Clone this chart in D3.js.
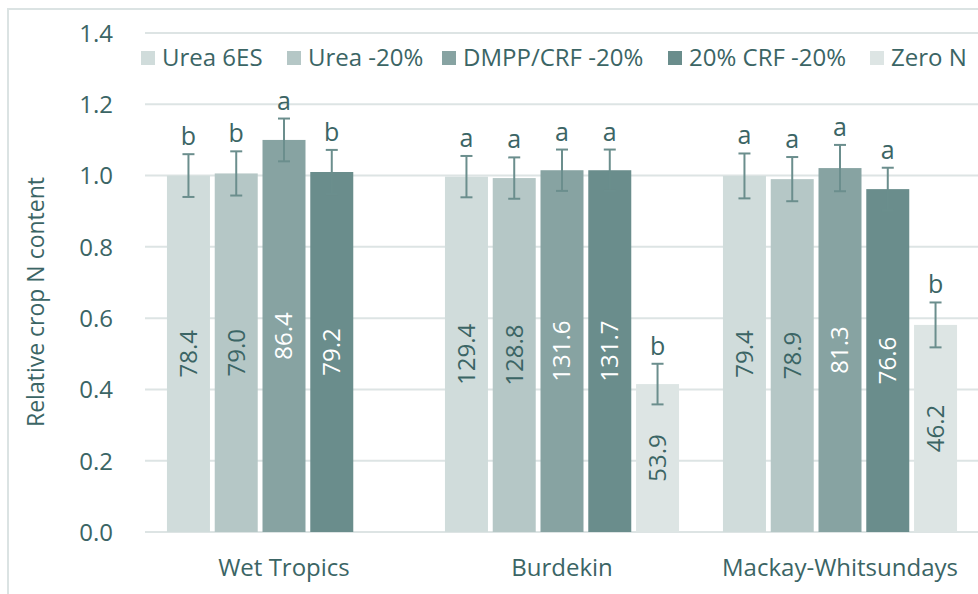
<!DOCTYPE html>
<meta charset="utf-8">
<style>
  body { margin: 0; background: #fff; }
  text { font-family: "Open Sans", Lato, sans-serif; fill: #3b6565; }
</style>
<svg width="978" height="594"></svg>
<script src="https://cdnjs.cloudflare.com/ajax/libs/d3/7.8.5/d3.min.js"></script>
<script>
  var categories = ["Wet Tropics", "Burdekin", "Mackay-Whitsundays"];
  var series = ["Urea 6ES", "Urea -20%", "DMPP/CRF -20%", "20% CRF -20%", "Zero N"];
  // relative crop N content, one row per series (null = not measured)
  var relN = [
    [1.000, 0.997, 0.999],
    [1.006, 0.993, 0.990],
    [1.100, 1.015, 1.021],
    [1.010, 1.015, 0.962],
    [null, 0.415, 0.581]
  ];
  var stdErr = [
    [0.060, 0.058, 0.063],
    [0.062, 0.058, 0.062],
    [0.060, 0.058, 0.065],
    [0.062, 0.058, 0.060],
    [null, 0.057, 0.063]
  ];
  // crop N uptake shown inside the bars
  var uptake = [
    ["78.4", "129.4", "79.4"],
    ["79.0", "128.8", "78.9"],
    ["86.4", "131.6", "81.3"],
    ["79.2", "131.7", "76.6"],
    [null, "53.9", "46.2"]
  ];
  var letters = [
    ["b", "a", "a"],
    ["b", "a", "a"],
    ["a", "a", "a"],
    ["b", "a", "a"],
    [null, "b", "b"]
  ];
  var yTicks = [0, 0.2, 0.4, 0.6, 0.8, 1.0, 1.2, 1.4];

  var colors = ["#d0dcdb", "#b5c7c6", "#87a3a2", "#6a8d8c", "#dde5e4"];
  var labelColors = ["#3b6565", "#3b6565", "#ffffff", "#ffffff", "#3b6565"];

  var svg = d3.select("svg");

  // outer frame
  svg.append("rect")
    .attr("x", 8).attr("y", 9)
    .attr("width", 1000).attr("height", 600)
    .attr("fill", "none")
    .attr("stroke", "#dbe3e3")
    .attr("stroke-width", 2);

  var x0 = d3.scaleBand()
    .domain(categories)
    .range([145, 979])
    .paddingInner(0.158)
    .paddingOuter(0.079);

  var x1 = d3.scaleBand()
    .domain(series)
    .range([0, x0.bandwidth()])
    .paddingInner(0.1);

  var y = d3.scaleLinear()
    .domain([0, 1.4])
    .range([532, 33]);

  // gridlines
  svg.append("g").selectAll("line")
    .data(yTicks)
    .enter().append("line")
    .attr("x1", 145).attr("x2", 979)
    .attr("y1", function(d) { return y(d); })
    .attr("y2", function(d) { return y(d); })
    .attr("stroke", "#dde4e4")
    .attr("stroke-width", 2);

  // y axis labels
  var yAxis = svg.append("g")
    .attr("transform", "translate(113,0)")
    .call(d3.axisLeft(y).tickValues(yTicks).tickFormat(d3.format(".1f")).tickSize(0).tickPadding(0));
  yAxis.select(".domain").remove();
  yAxis.attr("font-family", null).attr("font-size", null);
  yAxis.selectAll("text")
    .style("font-size", "24px")
    .attr("fill", "#3b6565")
    .attr("dy", "0.35em");

  svg.append("text")
    .attr("transform", "translate(44,302) rotate(-90)")
    .attr("text-anchor", "middle")
    .style("font-size", "23px")
    .text("Relative crop N content");

  // x axis labels
  svg.append("g").selectAll("text")
    .data(categories)
    .enter().append("text")
    .attr("x", function(d) { return x0(d) + x0.bandwidth() / 2; })
    .attr("y", 576)
    .attr("text-anchor", "middle")
    .style("font-size", "24px")
    .text(function(d) { return d; });

  // build flat records
  var recs = [];
  series.forEach(function(s, i) {
    categories.forEach(function(c, j) {
      if (relN[i][j] == null) return;
      recs.push({ s: s, si: i, c: c, v: relN[i][j], e: stdErr[i][j], lab: uptake[i][j], let: letters[i][j] });
    });
  });

  var g = svg.append("g");
  var bar = g.selectAll(".bar")
    .data(recs)
    .enter().append("g")
    .attr("class", "bar")
    .attr("transform", function(d) { return "translate(" + (x0(d.c) + x1(d.s)) + ",0)"; });

  var bw = x1.bandwidth();

  bar.append("rect")
    .attr("x", 0)
    .attr("width", bw)
    .attr("y", function(d) { return y(d.v); })
    .attr("height", function(d) { return y(0) - y(d.v); })
    .attr("fill", function(d) { return colors[d.si]; });

  // value labels inside bars
  bar.append("text")
    .attr("transform", function(d) {
      return "translate(" + (bw / 2) + "," + ((y(d.v) + y(0)) / 2) + ") rotate(-90)";
    })
    .attr("text-anchor", "middle")
    .attr("dy", "0.35em")
    .style("font-size", "24px")
    .style("fill", function(d) { return labelColors[d.si]; })
    .text(function(d) { return d.lab; });

  // error bars
  var ec = "#6b8e8d";
  bar.append("line")
    .attr("x1", bw / 2).attr("x2", bw / 2)
    .attr("y1", function(d) { return y(d.v + d.e); })
    .attr("y2", function(d) { return y(d.v - d.e); })
    .attr("stroke", ec).attr("stroke-width", 2);
  bar.append("line")
    .attr("x1", bw / 2 - 6).attr("x2", bw / 2 + 6)
    .attr("y1", function(d) { return y(d.v + d.e); })
    .attr("y2", function(d) { return y(d.v + d.e); })
    .attr("stroke", ec).attr("stroke-width", 2);
  bar.append("line")
    .attr("x1", bw / 2 - 6).attr("x2", bw / 2 + 6)
    .attr("y1", function(d) { return y(d.v - d.e); })
    .attr("y2", function(d) { return y(d.v - d.e); })
    .attr("stroke", ec).attr("stroke-width", 2);

  // significance letters
  bar.append("text")
    .attr("x", bw / 2)
    .attr("y", function(d) { return y(d.v + d.e) - 9; })
    .attr("text-anchor", "middle")
    .style("font-size", "25px")
    .text(function(d) { return d.let; });

  // legend
  var legX = [141, 287, 442, 668, 870];
  var legend = svg.append("g").selectAll("g")
    .data(series)
    .enter().append("g")
    .attr("transform", function(d, i) { return "translate(" + legX[i] + ",51)"; });
  legend.append("rect")
    .attr("width", 14).attr("height", 14)
    .attr("fill", function(d, i) { return colors[i]; });
  legend.append("text")
    .attr("x", 21)
    .attr("y", 7)
    .attr("dy", "0.35em")
    .style("font-size", "24px")
    .text(function(d) { return d; });
</script>
